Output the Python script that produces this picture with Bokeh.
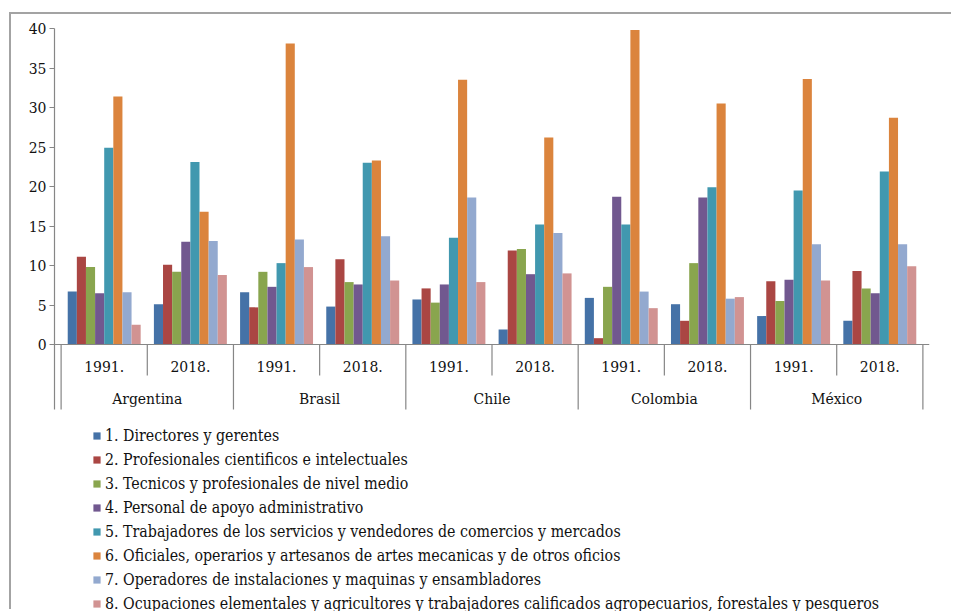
from bokeh.plotting import figure
from bokeh.models import (FactorRange, Range1d, ColumnDataSource, Legend, LegendItem,
                          Span, FixedTicker)
from bokeh.core.properties import value
from bokeh.embed import file_html
from bokeh.resources import INLINE

countries = ["Argentina", "Brasil", "Chile", "Colombia", "México"]
years = ["1991.", "2018."]
series_names = [
    "1. Directores y gerentes",
    "2. Profesionales cientificos e intelectuales",
    "3. Tecnicos y profesionales de nivel medio",
    "4. Personal de apoyo administrativo",
    "5. Trabajadores de los servicios y vendedores de comercios y mercados",
    "6. Oficiales, operarios y artesanos de artes mecanicas y de otros oficios",
    "7. Operadores de instalaciones y maquinas y ensambladores",
    "8. Ocupaciones elementales y agricultores y trabajadores calificados agropecuarios, forestales y pesqueros",
]
# order: Arg91, Arg18, Bra91, Bra18, Chi91, Chi18, Col91, Col18, Mex91, Mex18
directores     = [6.7, 5.1, 6.6, 4.8, 5.7, 1.9, 5.9, 5.1, 3.6, 3.0]
profesionales  = [11.1, 10.1, 4.7, 10.8, 7.1, 11.9, 0.8, 3.0, 8.0, 9.3]
tecnicos       = [9.8, 9.2, 9.2, 7.9, 5.3, 12.1, 7.3, 10.3, 5.5, 7.1]
administrativo = [6.5, 13.0, 7.3, 7.6, 7.6, 8.9, 18.7, 18.6, 8.2, 6.5]
servicios      = [24.9, 23.1, 10.3, 23.0, 13.5, 15.2, 15.2, 19.9, 19.5, 21.9]
oficiales      = [31.4, 16.8, 38.1, 23.3, 33.5, 26.2, 39.8, 30.5, 33.6, 28.7]
operadores     = [6.6, 13.1, 13.3, 13.7, 18.6, 14.1, 6.7, 5.8, 12.7, 12.7]
elementales    = [2.5, 8.8, 9.8, 8.1, 7.9, 9.0, 4.6, 6.0, 8.1, 9.9]

series_values = [directores, profesionales, tecnicos, administrativo,
                 servicios, oficiales, operadores, elementales]
colors = ["#4572A7", "#AA4643", "#89A54E", "#71588F",
          "#4198AF", "#DB843D", "#93A9CF", "#D19392"]
codes = [str(i + 1) for i in range(8)]

groups = [(c, y) for c in countries for y in years]
factors = [(c, y, s) for c in countries for y in years for s in codes]

GRAY = "#868686"
TXT = "#111111"
SERIF_C = "DejaVu Serif Condensed, DejaVu Serif"

W, H = 942, 597
TOP, LEFT, RIGHT = 14, 43, 24
FH = H - TOP
YMIN = 40 - FH / 7.9

p = figure(width=W, height=H,
           x_range=FactorRange(factors=factors, factor_padding=0.0,
                               subgroup_padding=1.45, group_padding=1.45,
                               range_padding=1.45, range_padding_units="absolute"),
           y_range=Range1d(YMIN, 40),
           output_backend="svg", toolbar_location=None,
           min_border_left=LEFT, min_border_right=RIGHT, min_border_top=TOP, min_border_bottom=0,
           styles={"margin-top": "14px", "margin-left": "11px",
                   "box-shadow": "-2px -2px 0 0 #a3a3a3"})

p.xaxis.visible = False
p.grid.visible = False
p.outline_line_color = None
p.background_fill_color = "white"

yax = p.yaxis[0]
yax.ticker = FixedTicker(ticks=[0, 5, 10, 15, 20, 25, 30, 35, 40])
yax.bounds = (-8.23, 40)
yax.axis_line_color = GRAY
yax.axis_line_width = 1.2
yax.major_tick_line_color = GRAY
yax.major_tick_line_width = 1.2
yax.major_tick_out = 5
yax.major_tick_in = 0
yax.minor_tick_line_color = None
yax.major_label_text_font = SERIF_C
yax.major_label_text_font_size = "15.5px"
yax.major_label_text_color = TXT
yax.major_label_standoff = 3

items = []
for code, name, vals, col in zip(codes, series_names, series_values, colors):
    src = ColumnDataSource(dict(x=[(g[0], g[1], code) for g in groups], top=vals))
    r = p.vbar(x="x", top="top", bottom=0, width=1.0, source=src,
               fill_color=col, line_color=None)
    items.append(LegendItem(label=name, renderers=[r]))

p.add_layout(Span(location=0, dimension="width", line_color=GRAY, line_width=1.2))

half = 4.725
cx, cy0, cy1 = [], [], []
for c in countries:
    cx.append((c, "1991.", -half)); cy0.append(0); cy1.append(-8.23)
cx.append(("México", "2018.", half)); cy0.append(0); cy1.append(-8.23)
for c in countries:
    cx.append((c, "2018.", -half)); cy0.append(0); cy1.append(-3.92)
sep = ColumnDataSource(dict(x=cx, y0=cy0, y1=cy1))
p.segment(x0="x", y0="y0", x1="x", y1="y1", source=sep, line_color=GRAY, line_width=1.2)

ysrc = ColumnDataSource(dict(x=groups, t=[g[1] for g in groups]))
p.text(x="x", y=-2.8, text="t", source=ysrc, text_font=value(SERIF_C), text_font_size="15.5px",
       text_align="center", text_baseline="middle", text_color=TXT)
csrc = ColumnDataSource(dict(x=countries, t=countries))
p.text(x="x", y=-6.85, text="t", source=csrc, text_font=value(SERIF_C), text_font_size="15.5px",
       text_align="center", text_baseline="middle", text_color=TXT)

legend = Legend(items=items, location=(38, -2), orientation="vertical",
                border_line_color=None, background_fill_alpha=0,
                padding=0, margin=0, spacing=4,
                glyph_width=9, glyph_height=9, label_standoff=4, label_height=20,
                label_text_font=SERIF_C, label_text_font_size="15.8px",
                label_text_color=TXT)
p.add_layout(legend)

open("out.html", "w").write(file_html(p, INLINE))
